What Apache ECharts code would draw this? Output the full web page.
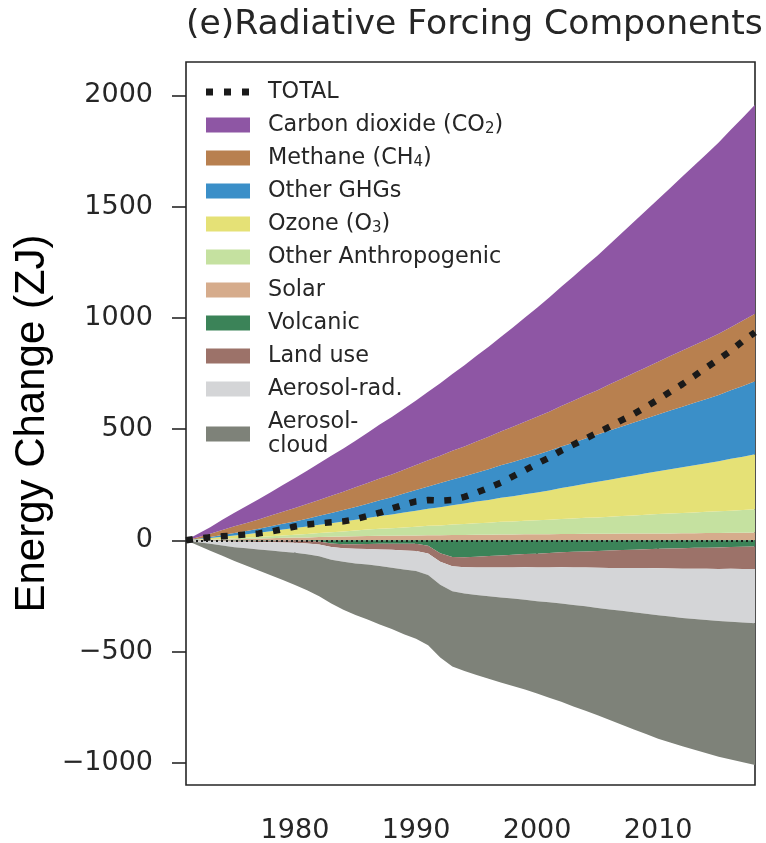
<!DOCTYPE html>
<html>
<head>
<meta charset="utf-8">
<script src="https://cdn.jsdelivr.net/npm/echarts@6/dist/echarts.min.js"></script>
<style>
  html, body { margin: 0; padding: 0; background: #ffffff; }
  #chart { width: 766px; height: 843px; }
</style>
</head>
<body>
<div id="chart"></div>
<script>
// Cumulative energy change (ZJ) from each forcing component since 1971
const years = [1971,1972,1973,1974,1975,1976,1977,1978,1979,1980,
               1981,1982,1983,1984,1985,1986,1987,1988,1989,1990,
               1991,1992,1993,1994,1995,1996,1997,1998,1999,2000,
               2001,2002,2003,2004,2005,2006,2007,2008,2009,2010,
               2011,2012,2013,2014,2015,2016,2017,2018];

const solar = [0,1,2,4,5,6,8,9,11,12, 13,15,16,17,18,19,20,20,21,22,
               23,23,24,24,25,25,26,26,27,27, 27,28,28,29,29,29,30,30,31,31,
               31,32,32,33,33,34,34,35];
const otherAnthro = [0,1,2,3,4,6,7,9,11,13, 15,18,20,23,26,29,32,34,37,39,
               42,44,47,49,52,54,57,59,61,63, 65,68,70,72,74,77,79,82,84,87,
               89,91,93,95,97,99,102,104];
const ozone = [0,3,6,9,12,15,19,23,26,30, 34,37,41,44,48,52,57,62,67,72,
               77,82,87,92,97,102,108,113,119,125, 132,139,146,153,160,166,173,179,186,192,
               199,205,212,218,225,233,240,248];
const otherGHGs = [0,2,5,8,12,15,18,22,26,30, 35,40,46,52,58,64,71,78,85,93,
               100,108,115,123,130,138,146,154,162,170, 178,187,195,204,212,221,229,238,246,255,
               264,272,281,289,298,308,318,328];
const methane = [0,7,14,22,30,36,42,48,54,60, 66,71,77,82,88,93,98,102,107,112,
               118,123,129,134,140,146,152,158,164,170, 176,182,188,194,200,208,215,223,230,238,
               245,253,260,268,275,284,294,303];
const co2 = [0,15,30,46,61,76,90,105,120,135, 150,165,180,195,210,226,242,258,274,290,
               308,326,345,365,385,405,425,446,468,490, 513,536,559,582,605,630,655,680,705,730,
               756,782,808,834,860,887,913,940];
const volcanic = [0,-0.5,-0.5,-1,-2,-2,-2,-2,-1,-1, -2,-5,-14,-18,-18,-17,-16,-16,-16,-16,
               -24,-58,-75,-76,-74,-71,-68,-65,-62,-60, -57,-54,-52,-50,-48,-46,-44,-42,-40,-38,
               -37,-36,-34,-33,-32,-30,-29,-28];
const landUse = [0,-1,-2,-3,-4,-5,-6,-7,-9,-10, -12,-14,-16,-18,-20,-22,-25,-27,-30,-32,
               -35,-38,-42,-45,-48,-51,-54,-57,-59,-62, -65,-67,-70,-72,-75,-78,-80,-83,-85,-88,
               -90,-92,-94,-95,-97,-98,-100,-101];
const aerosolRad = [0,-7,-13,-19,-25,-29,-33,-37,-41,-45, -49,-53,-57,-61,-66,-70,-75,-80,-85,-90,
               -97,-104,-112,-118,-124,-129,-135,-140,-146,-152, -157,-163,-169,-175,-181,-187,-193,-199,-205,-211,
               -216,-221,-226,-230,-234,-238,-241,-244];
const aerosolCloud = [0,-15,-31,-46,-62,-78,-95,-111,-128,-145, -162,-180,-197,-215,-232,-247,-262,-276,-291,-305,
               -316,-327,-338,-349,-360,-371,-382,-393,-404,-415, -429,-442,-456,-469,-483,-497,-512,-526,-541,-555,
               -566,-577,-588,-599,-610,-619,-628,-637];
const total = [0,8,14,18,22,26,31,39,50,62, 71,76,81,85,95,109,124,143,160,175,
               181,178,181,195,214,236,259,287,315,344, 372,403,430,457,484,511,540,568,600,633,
               668,702,739,777,814,852,896,935];

// Axis ticks
const xTickYears = [1980, 1990, 2000, 2010];
const yTickValues = [-1000, -500, 0, 500, 1000, 1500, 2000];

const TXT = '#262626';
const FONT = 'DejaVu Sans';

const chart = echarts.init(document.getElementById('chart'), null, { renderer: 'canvas' });

function area(name, data, color, stack) {
  return {
    name: name, type: 'line', data: data, stack: stack, stackStrategy: 'samesign',
    xAxisIndex: 0, yAxisIndex: 0,
    symbol: 'none', showSymbol: false, smooth: false,
    lineStyle: { width: 0, color: color },
    itemStyle: { color: color, borderWidth: 0 },
    areaStyle: { color: color, opacity: 1 },
    z: 2, silent: true
  };
}

const legendText = {
  'Carbon dioxide (CO2)': 'Carbon dioxide (CO{sub|2})',
  'Methane (CH4)': 'Methane (CH{sub|4})',
  'Ozone (O3)': 'Ozone (O{sub|3})',
  'Aerosol-cloud': 'Aerosol-\n{sp|}cloud'
};

const legendOrder = ['TOTAL', 'Carbon dioxide (CO2)', 'Methane (CH4)', 'Other GHGs', 'Ozone (O3)',
  'Other Anthropogenic', 'Solar', 'Volcanic', 'Land use', 'Aerosol-rad.', 'Aerosol-cloud'];

const totalIcon = 'path://M0,0L0,0M44,15L44,15M0,4h7v7h-7zM18,4h7v7h-7zM36,4h7v7h-7z';

const fmtNum = v => (v < 0 ? '\u2212' + Math.abs(v) : String(v));

const option = {
  animation: false,
  backgroundColor: '#ffffff',
  title: {
    text: '(e)Radiative Forcing Components',
    left: 181, top: 3,
    textStyle: { fontFamily: FONT, fontSize: 34.6, fontWeight: 'normal', color: TXT }
  },
  legend: {
    orient: 'vertical', left: 206, top: 80, padding: 0,
    itemWidth: 44, itemHeight: 15, itemGap: 9,
    itemStyle: { borderWidth: 0 },
    selectedMode: false,
    data: legendOrder.map(n => n === 'TOTAL' ? { name: n, icon: totalIcon } : { name: n, icon: 'rect' }),
    formatter: name => '{sp|}' + (legendText[name] || name),
    textStyle: {
      fontFamily: FONT, fontSize: 22.3, color: TXT, lineHeight: 24,
      rich: {
        sp: { width: 13, lineHeight: 24 },
        sub: { fontFamily: FONT, fontSize: 15, color: TXT, lineHeight: 12, verticalAlign: 'bottom' }
      }
    }
  },
  grid: [
    { left: 186, right: 11, top: 62, bottom: 58, show: true, borderColor: TXT, borderWidth: 1.6,
      backgroundColor: 'transparent', containLabel: false, outerBoundsMode: 'none' },
    { left: 186, right: 11, top: 95.37, bottom: 80.25, show: false, containLabel: false, outerBoundsMode: 'none' }
  ],
  xAxis: [
    {
      type: 'category', gridIndex: 0, data: years, boundaryGap: false,
      axisLine: { show: false },
      axisTick: { show: true, inside: false, length: 14, lineStyle: { color: TXT, width: 1.6 },
                  interval: (i, v) => xTickYears.includes(Number(v)) },
      axisLabel: { interval: (i, v) => xTickYears.includes(Number(v)), margin: 32,
                   fontFamily: FONT, fontSize: 27, color: TXT },
      splitLine: { show: false }
    },
    { type: 'value', gridIndex: 1, show: false, min: 0, max: 1 }
  ],
  yAxis: [
    {
      type: 'value', gridIndex: 0, min: -1100, max: 2150,
      axisLine: { show: false }, axisTick: { show: false }, axisLabel: { show: false },
      splitLine: { show: false },
      name: 'Energy Change (ZJ)', nameLocation: 'middle', nameRotate: 90, nameGap: 133,
      nameTextStyle: { fontFamily: 'Liberation Sans', fontSize: 42, color: '#000000' }
    },
    {
      type: 'value', gridIndex: 1,
      min: yTickValues[0], max: yTickValues[yTickValues.length - 1],
      interval: yTickValues[1] - yTickValues[0],
      axisLine: { show: false },
      axisTick: { show: true, inside: false, length: 14, lineStyle: { color: TXT, width: 1.6 } },
      axisLabel: { margin: 33, fontFamily: FONT, fontSize: 27, color: TXT, formatter: fmtNum },
      splitLine: { show: false }
    }
  ],
  series: [
    area('Solar', solar, '#D6AC8C', 'pos'),
    area('Other Anthropogenic', otherAnthro, '#C5E1A0', 'pos'),
    area('Ozone (O3)', ozone, '#E5E176', 'pos'),
    area('Other GHGs', otherGHGs, '#3B8FC8', 'pos'),
    area('Methane (CH4)', methane, '#B8804F', 'pos'),
    area('Carbon dioxide (CO2)', co2, '#8E56A4', 'pos'),
    area('Volcanic', volcanic, '#3B8358', 'neg'),
    area('Land use', landUse, '#9C7269', 'neg'),
    area('Aerosol-rad.', aerosolRad, '#D4D5D7', 'neg'),
    area('Aerosol-cloud', aerosolCloud, '#7E8279', 'neg'),
    {
      name: 'TOTAL', type: 'line', data: total, xAxisIndex: 0, yAxisIndex: 0,
      symbol: 'none', showSymbol: false, z: 5, silent: true,
      itemStyle: { color: '#1a1a1a' },
      lineStyle: { color: '#1a1a1a', width: 6.5, type: [7, 10.5], cap: 'butt' },
      markLine: {
        silent: true, symbol: ['none', 'none'], animation: false,
        label: { show: false },
        lineStyle: { color: '#1a1a1a', width: 2, type: [2, 3] },
        data: [{ yAxis: 0 }]
      }
    }
  ]
};

chart.setOption(option);
</script>
</body>
</html>
